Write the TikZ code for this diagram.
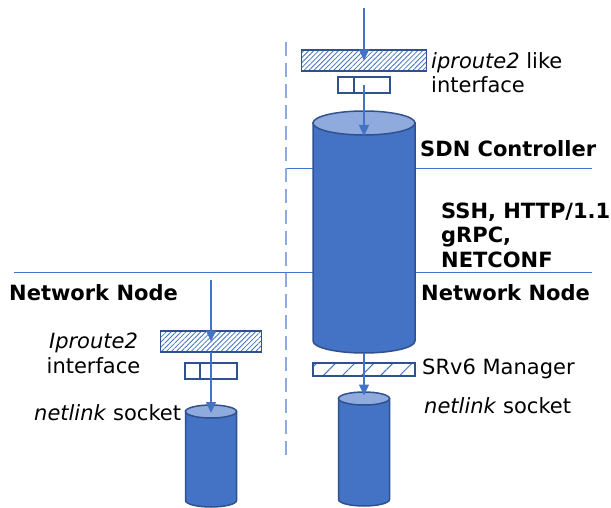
\documentclass[tikz,border=0pt]{standalone}
\usepackage{fontspec}
\setmainfont{DejaVu Sans}
\usetikzlibrary{positioning,patterns.meta,arrows.meta}
\definecolor{sdnblue}{HTML}{4472C4}
\definecolor{sdnedge}{HTML}{2F528F}
\definecolor{sdnlight}{HTML}{8FAADC}
\newcommand\dgsize{\fontsize{21}{24.5}\selectfont}
\newcommand\drawdb[3]{%
  \filldraw[draw=sdnedge,fill=sdnblue,line width=1.5pt] (#1.north west) -- (#1.south west)
    arc[start angle=180,end angle=360,x radius=#2,y radius=#3] -- (#1.north east) -- cycle;
  \filldraw[draw=sdnedge,fill=sdnlight,line width=1.5pt] (#1.north) ellipse[x radius=#2,y radius=#3];
}

\begin{document}
\begin{tikzpicture}[x=1pt,y=-1pt,
    >={Triangle[width=10pt,length=11pt]},
    arr/.style={->,draw=sdnblue,fill=sdnblue,line width=1.2pt},
    db/.style={rectangle,inner sep=0pt,outer sep=0pt},
    api/.style={rectangle,draw=sdnedge,line width=1.5pt,inner sep=0pt,outer sep=0pt,
      pattern={Lines[angle=45,distance=3.5pt,line width=0.8pt]},pattern color=sdnblue},
    sock/.style={rectangle,draw=sdnedge,line width=1.5pt,fill=white,inner sep=0pt,
      outer sep=0pt,minimum width=52pt,minimum height=16pt},
    lbl/.style={inner sep=0pt,anchor=base west,align=left,font=\dgsize},
    head/.style={lbl,font=\dgsize\bfseries},
    sep/.style={draw=sdnblue,line width=1pt}
  ]
    \useasboundingbox (0,0) rectangle (611,508);
    \coordinate (ctrlin)   at (364,8);
    \coordinate (nodein)   at (211,280);
    \coordinate (dashtop)  at (286,42);
    \coordinate (dashbot)  at (286,455);
    \coordinate (ctlline)  at (287,169);
    \coordinate (ctlend)   at (592,169);
    \coordinate (nodeline) at (14,272);
    \coordinate (nodeend)  at (592,272);

    \draw[sep] (ctlline) -- (ctlend);
    \draw[sep] (nodeline) -- (nodeend);
    \draw[sdnlight,line width=1.5pt,dash pattern=on 14pt off 7pt] (dashtop) -- (dashbot);

    \node[db,minimum width=102pt,minimum height=218pt] (ctrl) at (364,232) {};
    \node[db,minimum width=51pt,minimum height=101pt]  (dev)  at (364,449) {};
    \node[db,minimum width=51pt,minimum height=89pt]   (ldev) at (211,456) {};
    \drawdb{ctrl}{51pt}{12pt}
    \drawdb{dev}{25.5pt}{6.5pt}
    \drawdb{ldev}{25.5pt}{6.5pt}

    \node[api,minimum width=125pt,minimum height=21pt] (ifc)  at (364,60.5) {};
    \node[sock] (ifcsock) [below=6pt of ifc]  {};
    \node[api,minimum width=101pt,minimum height=21pt] (lifc) at (211,341.5) {};
    \node[sock] (lsock)   [below=11pt of lifc] {};
    \node[api,minimum width=102pt,minimum height=13pt,
      pattern={Lines[angle=45,distance=13.5pt,line width=1pt]}] (mgr) [below=22pt of ctrl] {};

    \draw[sdnedge,line width=1.5pt] ([xshift=16pt]ifcsock.north west) -- ([xshift=16pt]ifcsock.south west);
    \draw[sdnedge,line width=1.5pt] ([xshift=15pt]lsock.north west) -- ([xshift=15pt]lsock.south west);

    \draw[arr] (ctrlin) -- (ifc.center);
    \draw[arr] (ifcsock.center) -- ([yshift=-13pt]ctrl.north);
    \draw[arr] ([yshift=-12pt]ctrl.south) -- ([yshift=3pt]dev.north);
    \draw[arr] (nodein) -- (lifc.center);
    \draw[arr] (lifc.south) -- ([yshift=-1.5pt]ldev.north);

    \node[head] (sdnlbl)   at (420,157) {SDN Controller};
    \node[head] (protolbl) at (441,267) {SSH, HTTP/1.1\\gRPC,\\NETCONF};
    \node[head] (nnright)  at (421,300) {Network Node};
    \node[head] (nnleft)   at (9,300)   {Network Node};
    \node[lbl]  (ifclbl)   at (431,93)  {\textit{iproute2} like\\interface};
    \node[lbl,anchor=base,align=center] (lifclbl) at (93.5,373) {\textit{Iproute2}\\interface};
    \node[lbl]  (mgrlbl)   at (422,374) {SRv6 Manager};
    \node[lbl]  (socklbl)  at (424,413) {\textit{netlink} socket};
    \node[lbl]  (lsocklbl) at (34,420)  {\textit{netlink} socket};
\end{tikzpicture}
\end{document}
